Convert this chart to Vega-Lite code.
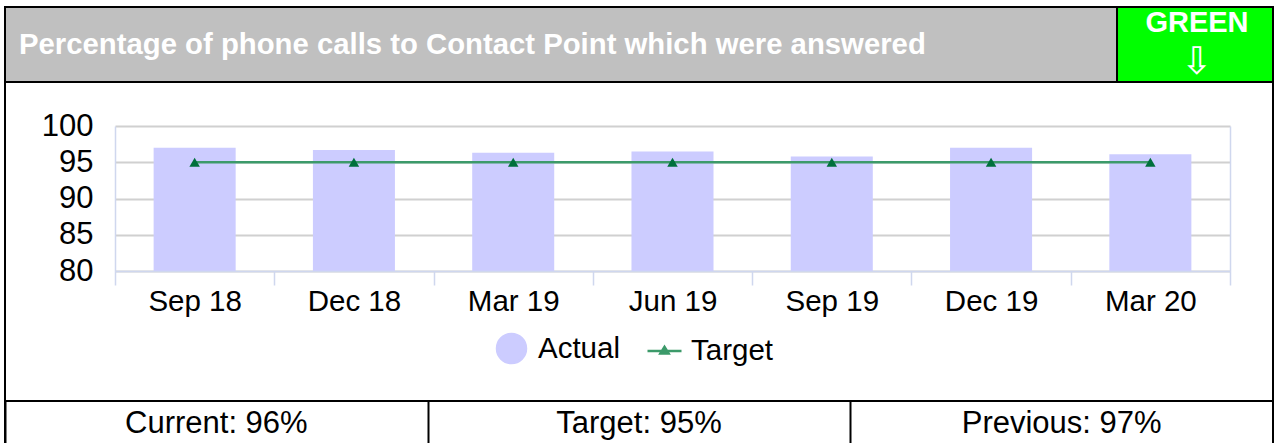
{
  "$schema": "https://vega.github.io/schema/vega-lite/v6.json",
  "padding": {"left": 4, "top": 5, "right": 2, "bottom": 0},
  "spacing": 0,
  "bounds": "flush",
  "config": {
    "font": "Liberation Sans",
    "view": {"stroke": "black", "strokeWidth": 2},
    "concat": {"spacing": 0}
  },
  "vconcat": [
    {
      "width": 1268,
      "height": 75,
      "view": {"fill": "#c0c0c0", "stroke": "black", "strokeWidth": 2},
      "layer": [
        {
          "data": {"values": [{"t": "Percentage of phone calls to Contact Point which were answered"}]},
          "mark": {"type": "text", "align": "left", "baseline": "middle", "dx": 14, "dy": 0, "fontSize": 29.3, "fontWeight": "bold", "color": "white", "font": "Liberation Sans"},
          "encoding": {
            "x": {"field": "t", "type": "nominal", "axis": null, "bandPosition": 0, "scale": {"type": "band", "paddingInner": 0, "paddingOuter": 0}},
            "text": {"field": "t"}
          }
        },
        {
          "data": {"values": [{"status": "GREEN"}]},
          "mark": {"type": "rect", "color": "#00ff00", "stroke": "black", "strokeWidth": 2},
          "encoding": {
            "x": {"field": "status", "type": "nominal", "axis": null, "scale": {"type": "band", "range": [1112, 1268], "paddingInner": 0, "paddingOuter": 0}}
          }
        },
        {
          "data": {"values": [{"status": "GREEN", "t": "GREEN"}]},
          "mark": {"type": "text", "color": "white", "fontWeight": "bold", "fontSize": 29, "baseline": "middle", "dy": -3, "dx": 2, "font": "Liberation Sans"},
          "encoding": {
            "x": {"field": "status", "type": "nominal", "axis": null, "scale": {"type": "band", "range": [1112, 1268], "paddingInner": 0, "paddingOuter": 0}},
            "y": {"field": "t", "type": "nominal", "axis": null, "scale": {"type": "band", "domain": ["GREEN", "⇩"], "paddingInner": 0, "paddingOuter": 0}},
            "text": {"field": "t"}
          }
        },
        {
          "data": {"values": [{"status": "GREEN", "t": "⇩"}]},
          "mark": {"type": "text", "color": "white", "fontSize": 38, "baseline": "middle", "dy": 0, "dx": 2, "font": "DejaVu Sans"},
          "encoding": {
            "x": {"field": "status", "type": "nominal", "axis": null, "scale": {"type": "band", "range": [1112, 1268], "paddingInner": 0, "paddingOuter": 0}},
            "y": {"field": "t", "type": "nominal", "axis": null},
            "text": {"field": "t"}
          }
        }
      ],
      "resolve": {"scale": {"x": "independent"}}
    },
    {
      "width": 1268,
      "height": 319,
      "view": {"fill": "white", "stroke": "black", "strokeWidth": 2},
      "data": {
        "values": [
          {"period": "Sep 18", "actual": 97.0, "target": 95},
          {"period": "Dec 18", "actual": 96.7, "target": 95},
          {"period": "Mar 19", "actual": 96.3, "target": 95},
          {"period": "Jun 19", "actual": 96.5, "target": 95},
          {"period": "Sep 19", "actual": 95.8, "target": 95},
          {"period": "Dec 19", "actual": 97.0, "target": 95},
          {"period": "Mar 20", "actual": 96.1, "target": 95}
        ]
      },
      "encoding": {
        "x": {
          "field": "period",
          "type": "nominal",
          "sort": null,
          "scale": {"type": "band", "range": [110, 1225], "paddingInner": 0, "paddingOuter": 0},
          "axis": {
            "orient": "bottom",
            "offset": -130,
            "title": null,
            "labelAngle": 0,
            "labelFontSize": 29.5,
            "labelColor": "black",
            "labelPadding": 2,
            "tickBand": "extent",
            "tickSize": 14,
            "tickColor": "#cfd7ee",
            "tickWidth": 1.5,
            "domainColor": "#cfd7ee",
            "domainWidth": 1.5,
            "grid": false,
            "zindex": 1
          }
        }
      },
      "layer": [
        {
          "mark": {"type": "bar", "width": {"band": 0.515}},
          "encoding": {
            "y": {
              "field": "actual",
              "type": "quantitative",
              "scale": {"domain": [80, 100], "range": [189, 44], "nice": false, "zero": false},
              "axis": {
                "orient": "left",
                "offset": -110,
                "title": null,
                "values": [80, 85, 90, 95, 100],
                "labelFontSize": 31,
                "labelColor": "black",
                "labelPadding": 22,
                "ticks": false,
                "grid": true,
                "gridColor": "#d0d0d0",
                "gridWidth": 2,
                "domainColor": "#cfd7ee",
                "domainWidth": 1.5
              }
            },
            "y2": {"datum": 80},
            "color": {
              "datum": "Actual",
              "type": "nominal",
              "scale": {"domain": ["Actual", "Target"], "range": ["#ccccff", "#3c9a6a"]},
              "legend": {
                "orient": "none",
                "legendX": 488,
                "legendY": 323,
                "direction": "horizontal",
                "title": null,
                "padding": 0,
                "labelFontSize": 29.5,
                "labelColor": "black",
                "labelOffset": 8,
                "columnPadding": 22,
                "symbolSize": 1156,
                "encode": {
                  "symbols": {
                    "update": {
                      "shape": {"signal": "datum.value === 'Actual' ? 'circle' : 'M-1,0L1,0M-0.24,0.14L0,-0.24L0.24,0.14Z'"},
                      "size": {"signal": "datum.value === 'Actual' ? 841 : 1156"},
                      "fill": {"signal": "datum.value === 'Actual' ? '#ccccff' : '#00703c'"},
                      "stroke": {"signal": "datum.value === 'Actual' ? '#ccccff' : '#3c9a6a'"},
                      "strokeWidth": {"value": 2.5},
                      "opacity": {"value": 1},
                      "fillOpacity": {"value": 1}
                    }
                  }
                }
              }
            }
          }
        },
        {
          "mark": {"type": "line", "strokeWidth": 2.5},
          "encoding": {
            "y": {
              "field": "target",
              "type": "quantitative",
              "axis": {"orient": "right", "offset": -43, "labels": false, "ticks": false, "grid": false, "domainColor": "#cfd7ee", "domainWidth": 1.5, "title": null}
            },
            "color": {"datum": "Target", "type": "nominal"}
          }
        },
        {
          "mark": {"type": "point", "shape": "triangle-up", "filled": true, "size": 110, "color": "#00703c", "opacity": 1},
          "encoding": {
            "y": {"field": "target", "type": "quantitative", "axis": null}
          }
        }
      ],
      "resolve": {"axis": {"y": "independent"}}
    },
    {
      "width": 1268,
      "height": 46,
      "view": {"fill": "white", "stroke": "black", "strokeWidth": 2},
      "data": {"values": [{"cell": "Current: 96%"}, {"cell": "Target: 95%"}, {"cell": "Previous: 97%"}]},
      "mark": {"type": "text", "fontSize": 31, "color": "black", "baseline": "middle", "font": "Liberation Sans"},
      "encoding": {
        "x": {
          "field": "cell",
          "type": "nominal",
          "sort": null,
          "scale": {"type": "band", "paddingInner": 0, "paddingOuter": 0},
          "axis": {"grid": true, "gridColor": "black", "gridWidth": 2, "tickBand": "extent", "domain": false, "ticks": false, "labels": false, "title": null}
        },
        "text": {"field": "cell"}
      }
    }
  ]
}
